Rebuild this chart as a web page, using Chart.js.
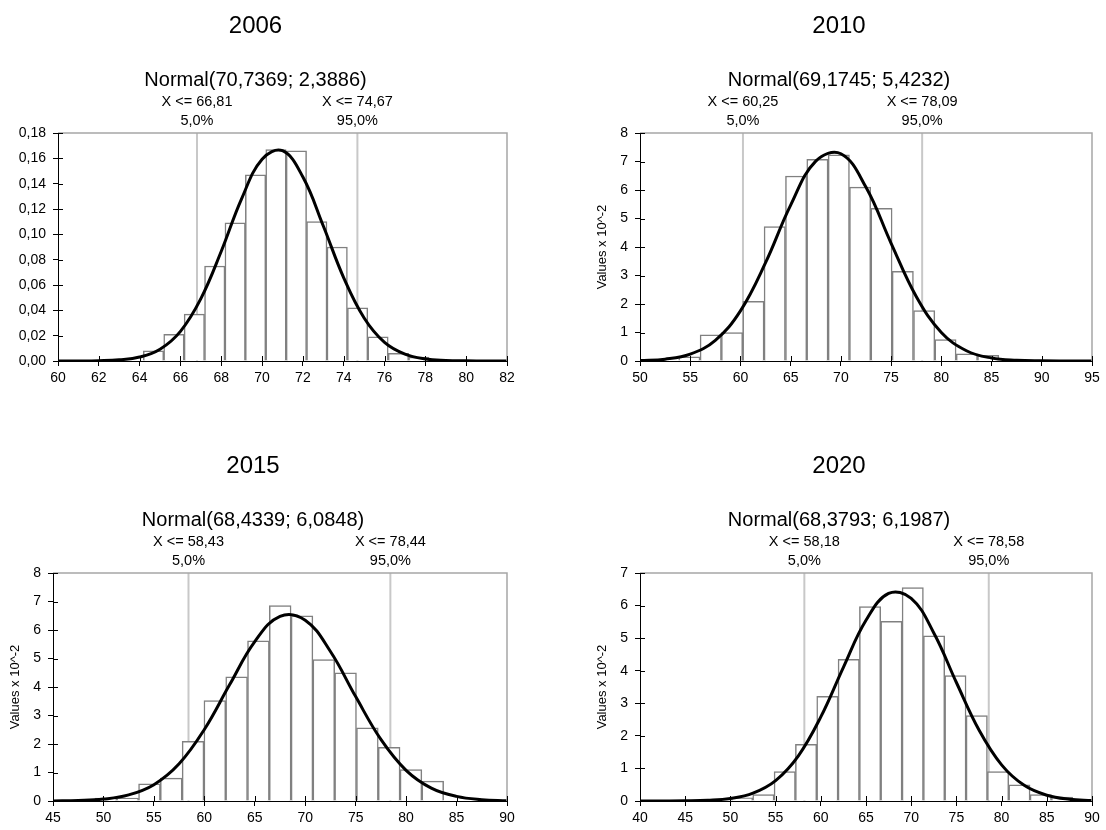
<!DOCTYPE html>
<html>
<head>
<meta charset="utf-8">
<script src="https://cdn.jsdelivr.net/npm/chart.js@4/dist/chart.umd.min.js"></script>
<style>
  body { margin: 0; background: #fff; }
  .panel { position: absolute; width: 553px; height: 415px; }
</style>
</head>
<body>
<div class="panel" id="p2006" style="left:0;top:0"><canvas></canvas></div>
<div class="panel" id="p2010" style="left:553px;top:0"><canvas></canvas></div>
<div class="panel" id="p2015" style="left:0;top:415px"><canvas></canvas></div>
<div class="panel" id="p2020" style="left:553px;top:415px"><canvas></canvas></div>
<script>
// titles
const years = ["2006", "2010", "2015", "2020"];
const fitText = ["Normal(70,7369; 2,3886)", "Normal(69,1745; 5,4232)", "Normal(68,4339; 6,0848)", "Normal(68,3793; 6,1987)"];
const pctText = ["5,0%", "95,0%"];

// 2006 (densities)
const binStart2006 = [64.18, 65.18, 66.18, 67.18, 68.18, 69.18, 70.18, 71.18, 72.18, 73.18, 74.18, 75.18, 76.18, 77.18];
const binWidth2006 = 1;
const dens2006 = [0.008, 0.021, 0.037, 0.075, 0.109, 0.147, 0.167, 0.166, 0.110, 0.090, 0.042, 0.019, 0.006, 0.003];
const curveX2006 = [60, 61, 62, 63, 64, 65, 66, 67, 68, 69, 70, 71, 72, 73, 74, 75, 76, 77, 78, 79, 80, 81, 82];
const curveY2006 = [0.0000, 0.0000, 0.0002, 0.0009, 0.0031, 0.0093, 0.0234, 0.0492, 0.0866, 0.1282, 0.1593, 0.1660, 0.1452, 0.1066, 0.0657, 0.0340, 0.0147, 0.0054, 0.0016, 0.0004, 0.0001, 0.0000, 0.0000];
const pct2006 = [66.81, 74.67];
const xAxis2006 = [60, 82, 2];
const yAxis2006 = [0, 0.18, 0.02];

// 2010 (values x 10^-2)
const binStart2010 = [53.85, 55.98, 58.10, 60.23, 62.35, 64.48, 66.60, 68.73, 70.85, 72.98, 75.10, 77.23, 79.35, 81.48, 83.60];
const binWidth2010 = 2.125;
const dens2010 = [0.15, 0.92, 1.00, 2.09, 4.72, 6.49, 7.08, 7.23, 6.10, 5.36, 3.15, 1.77, 0.75, 0.25, 0.20];
const curveX2010 = [50, 52.5, 55, 57.5, 60, 62.5, 65, 67.5, 70, 72.5, 75, 77.5, 80, 82.5, 85, 87.5, 90, 92.5, 95];
const curveY2010 = [0.014, 0.065, 0.242, 0.725, 1.759, 3.449, 5.470, 7.013, 7.271, 6.095, 4.131, 2.264, 1.003, 0.360, 0.104, 0.024, 0.005, 0.001, 0.000];
const pct2010 = [60.25, 78.09];
const xAxis2010 = [50, 95, 5];
const yAxis2010 = [0, 8, 1];

// 2015
const binStart2015 = [49.16, 51.32, 53.48, 55.64, 57.80, 59.96, 62.12, 64.28, 66.44, 68.60, 70.76, 72.92, 75.08, 77.24, 79.40, 81.56];
const binWidth2015 = 2.16;
const dens2015 = [0.10, 0.10, 0.60, 0.80, 2.09, 3.52, 4.36, 5.62, 6.86, 6.50, 4.96, 4.50, 2.57, 1.88, 1.10, 0.70];
const curveX2015 = [45, 47.5, 50, 52.5, 55, 57.5, 60, 62.5, 65, 67.5, 70, 72.5, 75, 77.5, 80, 82.5, 85, 87.5, 90];
const curveY2015 = [0.004, 0.018, 0.067, 0.213, 0.573, 1.305, 2.509, 4.076, 5.592, 6.480, 6.343, 5.245, 3.663, 2.161, 1.077, 0.453, 0.161, 0.048, 0.012];
const pct2015 = [58.43, 78.44];
const xAxis2015 = [45, 90, 5];
const yAxis2015 = [0, 8, 1];

// 2020
const binStart2020 = [50.11, 52.47, 54.83, 57.19, 59.55, 61.91, 64.27, 66.63, 68.99, 71.35, 73.71, 76.07, 78.43, 80.79, 83.15, 85.51];
const binWidth2020 = 2.36;
const dens2020 = [0.10, 0.20, 0.90, 1.74, 3.21, 4.35, 5.97, 5.52, 6.55, 5.07, 3.85, 2.62, 0.90, 0.50, 0.20, 0.12];
const curveX2020 = [40, 42.5, 45, 47.5, 50, 52.5, 55, 57.5, 60, 62.5, 65, 67.5, 70, 72.5, 75, 77.5, 80, 82.5, 85, 87.5, 90];
const curveY2020 = [0.000, 0.001, 0.005, 0.022, 0.079, 0.242, 0.627, 1.379, 2.581, 4.104, 5.547, 6.372, 6.220, 5.160, 3.638, 2.180, 1.110, 0.481, 0.177, 0.055, 0.015];
const pct2020 = [58.18, 78.58];
const xAxis2020 = [40, 90, 5];
const yAxis2020 = [0, 7, 1];

const FONT = '"Liberation Sans", Arial, sans-serif';
Chart.defaults.font.family = FONT;
Chart.defaults.color = "#000";

function comma(v, d) {
    return v.toFixed(d).replace(".", ",");
}

// frame, inner tick halves and the texts above the plot
const decor = {
    id: "decor",
    afterDraw(chart, args, opts) {
        const { ctx, chartArea: a, scales: { x, y } } = chart;
        ctx.save();
        ctx.strokeStyle = "#a6a6a6";
        ctx.lineWidth = 1.5;
        ctx.beginPath();
        ctx.moveTo(a.left, a.top);
        ctx.lineTo(a.right, a.top);
        ctx.lineTo(a.right, a.bottom);
        ctx.stroke();

        ctx.strokeStyle = "#000";
        ctx.lineWidth = 1;
        y.ticks.forEach(t => {
            const py = Math.round(y.getPixelForValue(t.value)) + 0.5;
            ctx.beginPath();
            ctx.moveTo(a.left, py);
            ctx.lineTo(a.left + 5, py);
            ctx.stroke();
        });
        x.ticks.forEach(t => {
            const px = Math.round(x.getPixelForValue(t.value)) + 0.5;
            ctx.beginPath();
            ctx.moveTo(px, a.bottom);
            ctx.lineTo(px, a.bottom - 5);
            ctx.stroke();
        });

        ctx.fillStyle = "#000";
        ctx.textAlign = "center";
        ctx.textBaseline = "middle";
        const cx = (a.left + a.right) / 2 - 27;
        ctx.font = "24px " + FONT;
        ctx.fillText(opts.year, cx, a.top - 107);
        ctx.font = "20px " + FONT;
        ctx.fillText(opts.fit, cx, a.top - 53);
        ctx.font = "14.5px " + FONT;
        opts.pct.forEach((p, i) => {
            const px = x.getPixelForValue(p);
            ctx.fillText("X <= " + comma(p, 2), px, a.top - 31);
            ctx.fillText(pctText[i], px, a.top - 12);
        });
        ctx.restore();
    }
};

const panels = [
    { el: "p2006", i: 0, start: binStart2006, w: binWidth2006, dens: dens2006, cx: curveX2006, cy: curveY2006, pct: pct2006, xa: xAxis2006, ya: yAxis2006, dec: 2, yTitle: false, pad: { left: 0, right: 46, top: 133, bottom: 24 }, yW: 58, xH: 30 },
    { el: "p2010", i: 1, start: binStart2010, w: binWidth2010, dens: dens2010, cx: curveX2010, cy: curveY2010, pct: pct2010, xa: xAxis2010, ya: yAxis2010, dec: 0, yTitle: true, pad: { left: 42, right: 14, top: 133, bottom: 24 }, yW: 45, xH: 30 },
    { el: "p2015", i: 2, start: binStart2015, w: binWidth2015, dens: dens2015, cx: curveX2015, cy: curveY2015, pct: pct2015, xa: xAxis2015, ya: yAxis2015, dec: 0, yTitle: true, pad: { left: 8, right: 46, top: 158, bottom: 0 }, yW: 45, xH: 29 },
    { el: "p2020", i: 3, start: binStart2020, w: binWidth2020, dens: dens2020, cx: curveX2020, cy: curveY2020, pct: pct2020, xa: xAxis2020, ya: yAxis2020, dec: 0, yTitle: true, pad: { left: 42, right: 14, top: 158, bottom: 0 }, yW: 45, xH: 29 }
];

panels.forEach(p => {
    const canvas = document.querySelector("#" + p.el + " canvas");
    const pctLines = p.pct.map(v => ({
        type: "line",
        data: [{ x: v, y: p.ya[0] }, { x: v, y: p.ya[1] }],
        borderColor: "#c8c8c8",
        borderWidth: 2,
        pointRadius: 0,
        order: 3
    }));
    new Chart(canvas, {
        type: "bar",
        data: {
            datasets: [
                {
                    type: "line",
                    data: p.cx.map((x, k) => ({ x: x, y: p.cy[k] })),
                    borderColor: "#000",
                    borderWidth: 3,
                    pointRadius: 0,
                    tension: 0.4,
                    fill: false,
                    order: 1
                },
                {
                    type: "bar",
                    data: p.start.map((s, k) => ({ x: s + p.w / 2, y: p.dens[k] })),
                    backgroundColor: "#fff",
                    borderColor: "#808080",
                    borderWidth: 1.5,
                    barPercentage: 1,
                    categoryPercentage: 1,
                    order: 2
                },
                ...pctLines
            ]
        },
        options: {
            responsive: true,
            maintainAspectRatio: false,
            animation: false,
            events: [],
            layout: { padding: p.pad },
            plugins: {
                legend: { display: false },
                tooltip: { enabled: false },
                decor: { year: years[p.i], fit: fitText[p.i], pct: p.pct }
            },
            scales: {
                x: {
                    type: "linear",
                    min: p.xa[0],
                    max: p.xa[1],
                    offset: false,
                    ticks: { stepSize: p.xa[2], autoSkip: false, maxRotation: 0, padding: 4, font: { size: 14 }, color: "#000" },
                    grid: { drawOnChartArea: false, drawTicks: true, tickLength: 5, color: "#000", offset: false },
                    border: { display: true, color: "#000", width: 1 },
                    afterFit: s => { s.height = p.xH; }
                },
                y: {
                    min: p.ya[0],
                    max: p.ya[1],
                    ticks: {
                        stepSize: p.ya[2],
                        padding: 7,
                        font: { size: 14 },
                        color: "#000",
                        callback: v => comma(v, p.dec)
                    },
                    grid: { drawOnChartArea: false, drawTicks: true, tickLength: 5, color: "#000" },
                    border: { display: true, color: "#000", width: 1 },
                    title: { display: p.yTitle, text: "Values x 10^-2", font: { size: 13 }, color: "#000", padding: 0 },
                    afterFit: s => { s.width = p.yW; }
                }
            }
        },
        plugins: [decor]
    });
});
</script>
</body>
</html>
